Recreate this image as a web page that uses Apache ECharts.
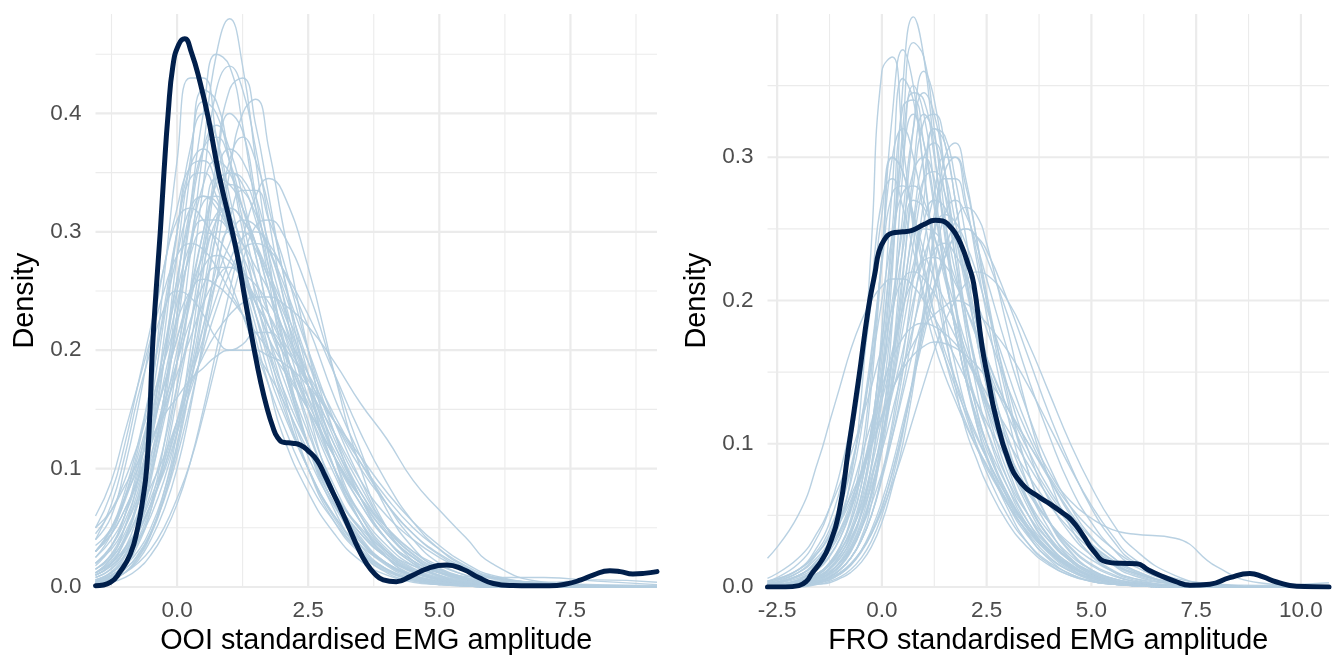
<!DOCTYPE html>
<html>
<head>
<meta charset="utf-8">
<script src="https://cdn.jsdelivr.net/npm/echarts@6/dist/echarts.min.js"></script>
<style>
html,body{margin:0;padding:0;background:#ffffff;}
#chart{width:1344px;height:672px;}
</style>
</head>
<body>
<div id="chart"></div>
<script>
// ---------------- data ----------------
const X_TITLE_OOI = 'OOI standardised EMG amplitude';
const X_TITLE_FRO = 'FRO standardised EMG amplitude';
const Y_TITLE = 'Density';

const X_TICKS_OOI = [0, 2.5, 5, 7.5];
const X_MINOR_OOI = [-1.25, 1.25, 3.75, 6.25, 8.75];
const Y_TICKS_OOI = [0, 0.1, 0.2, 0.3, 0.4];
const Y_MINOR_OOI = [0.05, 0.15, 0.25, 0.35, 0.45];

const X_TICKS_FRO = [-2.5, 0, 2.5, 5, 7.5, 10];
const X_MINOR_FRO = [-1.25, 1.25, 3.75, 6.25, 8.75];
const Y_TICKS_FRO = [0, 0.1, 0.2, 0.3];
const Y_MINOR_FRO = [0.05, 0.15, 0.25, 0.35];

// evaluation grid of the replicated density curves (OOI)
const X_GRID_OOI = [-1.555,-1.25,-1,-0.75,-0.5,-0.25,0,0.25,0.5,0.75,1,1.25,1.5,1.75,2,2.5,3,3.5,4,4.5,5,5.5,6,7,8,9.15];
// replicated densities (y_rep), OOI
const YREP_OOI = [
[0.005,0.01,0.02,0.04,0.07,0.12,0.19,0.28,0.37,0.45,0.48,0.44,0.36,0.28,0.21,0.12,0.065,0.03,0.012,0.005,0.002,0.001,0,0,0,0],
[0.006,0.012,0.025,0.05,0.09,0.15,0.23,0.32,0.40,0.45,0.44,0.39,0.32,0.26,0.2,0.12,0.07,0.035,0.015,0.006,0.003,0.001,0,0,0,0],
[0.004,0.009,0.018,0.035,0.065,0.11,0.17,0.25,0.34,0.42,0.44,0.42,0.37,0.31,0.25,0.15,0.08,0.04,0.02,0.01,0.004,0.002,0.001,0,0,0],
[0.003,0.006,0.012,0.025,0.045,0.08,0.13,0.2,0.28,0.36,0.42,0.43,0.39,0.33,0.27,0.17,0.1,0.055,0.025,0.01,0.004,0.002,0.001,0,0,0],
[0.012,0.025,0.05,0.09,0.16,0.26,0.36,0.43,0.43,0.38,0.32,0.26,0.21,0.17,0.13,0.08,0.045,0.022,0.01,0.004,0.002,0.001,0,0,0,0],
[0.01,0.02,0.04,0.07,0.12,0.19,0.28,0.36,0.41,0.4,0.36,0.31,0.26,0.21,0.17,0.1,0.055,0.028,0.013,0.006,0.003,0.001,0,0,0,0],
[0.015,0.028,0.05,0.08,0.13,0.19,0.26,0.32,0.37,0.38,0.36,0.32,0.28,0.23,0.19,0.12,0.07,0.04,0.02,0.01,0.005,0.002,0.001,0,0,0],
[0.02,0.032,0.05,0.075,0.11,0.15,0.2,0.25,0.3,0.34,0.35,0.34,0.31,0.27,0.23,0.16,0.1,0.06,0.032,0.016,0.008,0.004,0.002,0,0,0],
[0.03,0.05,0.08,0.12,0.17,0.23,0.28,0.32,0.33,0.32,0.3,0.27,0.24,0.21,0.18,0.12,0.075,0.045,0.025,0.013,0.006,0.003,0.001,0,0,0],
[0.01,0.018,0.03,0.05,0.08,0.12,0.17,0.22,0.27,0.31,0.32,0.31,0.29,0.26,0.23,0.17,0.12,0.08,0.05,0.03,0.018,0.01,0.005,0.002,0.001,0],
[0.04,0.06,0.1,0.15,0.21,0.27,0.32,0.355,0.36,0.34,0.3,0.26,0.22,0.18,0.15,0.1,0.06,0.035,0.02,0.01,0.005,0.002,0.001,0,0,0],
[0.025,0.04,0.06,0.09,0.13,0.17,0.21,0.25,0.28,0.3,0.3,0.29,0.27,0.25,0.22,0.17,0.13,0.09,0.06,0.04,0.025,0.014,0.007,0.002,0.001,0],
[0.03,0.045,0.065,0.09,0.12,0.15,0.18,0.21,0.24,0.26,0.27,0.265,0.255,0.24,0.22,0.18,0.14,0.1,0.07,0.045,0.028,0.016,0.008,0.003,0.001,0],
[0.05,0.065,0.085,0.105,0.125,0.145,0.16,0.175,0.185,0.195,0.2,0.2,0.2,0.195,0.19,0.17,0.14,0.11,0.08,0.055,0.035,0.02,0.01,0.003,0.001,0],
[0.04,0.07,0.11,0.16,0.2,0.235,0.25,0.245,0.23,0.21,0.2,0.205,0.215,0.215,0.205,0.17,0.12,0.075,0.04,0.02,0.01,0.004,0.002,0,0,0],
[0.015,0.025,0.04,0.06,0.085,0.11,0.14,0.17,0.195,0.215,0.23,0.24,0.245,0.245,0.24,0.22,0.19,0.155,0.125,0.09,0.065,0.042,0.02,0.004,0.001,0],
[0.005,0.01,0.018,0.03,0.05,0.08,0.12,0.17,0.22,0.27,0.31,0.335,0.335,0.31,0.28,0.2,0.13,0.075,0.04,0.02,0.01,0.005,0.002,0.001,0,0],
[0.008,0.016,0.032,0.06,0.1,0.16,0.23,0.31,0.37,0.39,0.37,0.33,0.28,0.23,0.19,0.12,0.07,0.038,0.018,0.008,0.004,0.002,0.001,0,0,0],
[0.03,0.05,0.075,0.11,0.15,0.2,0.25,0.29,0.31,0.31,0.3,0.28,0.25,0.22,0.19,0.13,0.08,0.05,0.03,0.018,0.012,0.009,0.008,0.008,0.005,0.002],
[0.008,0.015,0.027,0.045,0.07,0.1,0.14,0.19,0.25,0.31,0.35,0.345,0.32,0.28,0.24,0.17,0.11,0.07,0.04,0.022,0.012,0.006,0.003,0.001,0,0],
[0.06,0.09,0.13,0.17,0.21,0.25,0.28,0.29,0.285,0.27,0.25,0.23,0.2,0.18,0.16,0.115,0.075,0.045,0.025,0.013,0.007,0.003,0.002,0.001,0,0],
[0.003,0.006,0.012,0.022,0.04,0.065,0.1,0.15,0.21,0.28,0.35,0.4,0.412,0.37,0.31,0.2,0.11,0.055,0.025,0.01,0.004,0.002,0.001,0,0,0],
[0.01,0.018,0.03,0.045,0.07,0.1,0.135,0.175,0.21,0.245,0.275,0.295,0.3,0.29,0.27,0.22,0.16,0.11,0.07,0.04,0.02,0.01,0.004,0.001,0,0],
[0.005,0.01,0.02,0.038,0.065,0.105,0.16,0.22,0.29,0.345,0.37,0.36,0.33,0.29,0.25,0.17,0.1,0.055,0.028,0.013,0.006,0.003,0.001,0,0,0],
[0.02,0.035,0.06,0.095,0.14,0.2,0.26,0.31,0.33,0.325,0.3,0.27,0.24,0.21,0.19,0.15,0.11,0.07,0.04,0.022,0.012,0.007,0.005,0.003,0.002,0.001],
[0.035,0.05,0.075,0.1,0.135,0.17,0.21,0.245,0.27,0.28,0.275,0.26,0.24,0.22,0.2,0.155,0.11,0.075,0.05,0.03,0.016,0.008,0.004,0.001,0,0],
[0.01,0.02,0.04,0.075,0.13,0.21,0.3,0.37,0.4,0.38,0.33,0.28,0.23,0.19,0.155,0.1,0.06,0.032,0.015,0.007,0.003,0.001,0,0,0,0],
[0.012,0.02,0.033,0.05,0.075,0.105,0.14,0.18,0.22,0.26,0.29,0.31,0.305,0.285,0.26,0.2,0.14,0.09,0.05,0.028,0.015,0.008,0.005,0.004,0.006,0.004],
[0.045,0.065,0.09,0.12,0.155,0.19,0.225,0.25,0.26,0.255,0.245,0.23,0.215,0.2,0.185,0.15,0.11,0.075,0.045,0.025,0.013,0.006,0.003,0.001,0,0],
[0.012,0.022,0.038,0.062,0.095,0.14,0.19,0.245,0.3,0.345,0.34,0.32,0.29,0.25,0.21,0.14,0.085,0.048,0.025,0.012,0.006,0.003,0.001,0,0,0],
[0.002,0.004,0.008,0.015,0.027,0.045,0.07,0.105,0.15,0.2,0.25,0.295,0.33,0.345,0.335,0.27,0.18,0.1,0.05,0.022,0.009,0.004,0.002,0,0,0],
[0.05,0.08,0.12,0.17,0.22,0.27,0.31,0.32,0.31,0.29,0.26,0.23,0.2,0.17,0.14,0.09,0.055,0.03,0.015,0.007,0.003,0.001,0,0,0,0],
[0.012,0.024,0.042,0.07,0.11,0.16,0.22,0.29,0.34,0.36,0.35,0.32,0.29,0.25,0.22,0.15,0.095,0.055,0.03,0.015,0.007,0.003,0.001,0,0,0],
[0.006,0.012,0.022,0.038,0.06,0.09,0.13,0.18,0.24,0.3,0.34,0.335,0.315,0.285,0.255,0.19,0.13,0.085,0.05,0.027,0.014,0.007,0.003,0.001,0,0],
[0.03,0.048,0.072,0.105,0.145,0.19,0.24,0.28,0.3,0.295,0.28,0.26,0.24,0.22,0.2,0.16,0.115,0.075,0.045,0.025,0.013,0.006,0.003,0.001,0,0],
[0.004,0.008,0.015,0.027,0.046,0.075,0.115,0.17,0.235,0.3,0.36,0.38,0.36,0.32,0.27,0.18,0.11,0.06,0.03,0.014,0.006,0.003,0.001,0,0,0],
[0.015,0.027,0.045,0.07,0.105,0.145,0.19,0.24,0.285,0.315,0.32,0.31,0.29,0.265,0.24,0.19,0.145,0.105,0.07,0.045,0.027,0.015,0.008,0.003,0.001,0],
[0.006,0.013,0.027,0.052,0.095,0.16,0.25,0.35,0.42,0.41,0.36,0.3,0.245,0.2,0.16,0.1,0.058,0.03,0.014,0.006,0.002,0.001,0,0,0,0],
[0.012,0.02,0.032,0.048,0.07,0.097,0.13,0.165,0.2,0.235,0.265,0.285,0.29,0.285,0.27,0.23,0.18,0.13,0.088,0.055,0.032,0.017,0.008,0.002,0,0],
[0.025,0.045,0.075,0.115,0.17,0.235,0.3,0.345,0.35,0.33,0.3,0.265,0.23,0.2,0.17,0.12,0.08,0.048,0.027,0.014,0.007,0.003,0.001,0,0,0],
[0.004,0.007,0.012,0.02,0.032,0.05,0.075,0.105,0.145,0.19,0.235,0.275,0.305,0.31,0.3,0.25,0.18,0.115,0.065,0.033,0.015,0.007,0.003,0,0,0],
[0.03,0.045,0.065,0.09,0.12,0.155,0.19,0.225,0.255,0.27,0.27,0.26,0.245,0.23,0.21,0.175,0.14,0.105,0.075,0.05,0.032,0.018,0.009,0.003,0.001,0],
[0.003,0.006,0.012,0.024,0.044,0.075,0.12,0.185,0.265,0.35,0.4,0.385,0.33,0.27,0.215,0.135,0.078,0.042,0.02,0.009,0.004,0.002,0,0,0,0],
[0.02,0.035,0.055,0.085,0.125,0.175,0.23,0.285,0.325,0.33,0.315,0.29,0.26,0.23,0.205,0.15,0.1,0.062,0.035,0.018,0.009,0.004,0.002,0,0,0],
[0.004,0.008,0.015,0.027,0.046,0.073,0.11,0.155,0.205,0.26,0.3,0.3,0.285,0.26,0.235,0.18,0.125,0.08,0.047,0.025,0.012,0.005,0.002,0,0,0],
[0.018,0.034,0.06,0.1,0.155,0.225,0.3,0.355,0.37,0.35,0.31,0.27,0.23,0.195,0.165,0.11,0.068,0.038,0.019,0.009,0.004,0.002,0.001,0,0,0]
];
// observed density (y), OOI: [x, density]
const Y_OOI = [[-1.555,0.001],[-1.27,0.004],[-1.1,0.012],[-0.89,0.028],[-0.75,0.05],[-0.65,0.075],[-0.58,0.1],[-0.52,0.145],[-0.47,0.2],[-0.4,0.25],[-0.32,0.3],[-0.25,0.35],[-0.17,0.4],[-0.08,0.44],[0.03,0.458],[0.145,0.463],[0.27,0.452],[0.44,0.426],[0.6,0.395],[0.8,0.348],[1.0,0.31],[1.15,0.28],[1.3,0.242],[1.46,0.203],[1.6,0.172],[1.71,0.152],[1.82,0.136],[1.92,0.126],[2.05,0.122],[2.2,0.1215],[2.35,0.12],[2.5,0.115],[2.67,0.107],[2.82,0.094],[2.98,0.079],[3.15,0.063],[3.3,0.048],[3.45,0.033],[3.61,0.02],[3.77,0.011],[3.93,0.006],[4.18,0.0045],[4.45,0.009],[4.8,0.016],[5.14,0.0186],[5.45,0.015],[5.75,0.008],[6.03,0.003],[6.4,0.0012],[6.73,0.001],[7.1,0.001],[7.42,0.0025],[7.7,0.006],[7.93,0.01],[8.25,0.0138],[8.45,0.013],[8.69,0.011],[8.9,0.0115],[9.15,0.013]];

// evaluation grid of the replicated density curves (FRO)
const X_GRID_FRO = [-2.73,-2,-1.5,-1.25,-1,-0.75,-0.5,-0.25,0,0.25,0.5,0.75,1,1.25,1.5,1.75,2,2.25,2.5,3,3.5,4,4.5,5,5.5,6,7,8,9,10.67];
const YREP_FRO = [
[0,0.002,0.006,0.01,0.018,0.03,0.05,0.085,0.14,0.22,0.35,0.398,0.37,0.305,0.245,0.195,0.155,0.125,0.1,0.062,0.036,0.019,0.009,0.004,0.002,0.001,0,0,0,0],
[0,0.003,0.008,0.013,0.022,0.036,0.058,0.095,0.15,0.23,0.32,0.38,0.37,0.32,0.26,0.2,0.15,0.115,0.09,0.055,0.03,0.016,0.008,0.004,0.002,0.001,0,0,0,0],
[0.001,0.005,0.015,0.027,0.045,0.075,0.13,0.24,0.36,0.37,0.31,0.25,0.2,0.17,0.148,0.13,0.113,0.098,0.085,0.058,0.037,0.021,0.011,0.005,0.002,0.001,0,0,0,0],
[0.001,0.004,0.01,0.017,0.028,0.047,0.08,0.14,0.23,0.33,0.375,0.35,0.29,0.23,0.18,0.14,0.11,0.09,0.072,0.045,0.027,0.015,0.008,0.004,0.002,0.001,0,0,0,0],
[0.001,0.004,0.01,0.017,0.028,0.045,0.07,0.11,0.17,0.24,0.31,0.345,0.34,0.3,0.25,0.2,0.16,0.125,0.1,0.065,0.04,0.023,0.012,0.006,0.003,0.001,0,0,0,0],
[0.001,0.003,0.007,0.012,0.02,0.032,0.052,0.085,0.13,0.19,0.26,0.32,0.345,0.33,0.29,0.24,0.19,0.15,0.12,0.075,0.045,0.025,0.013,0.006,0.003,0.001,0,0,0,0],
[0,0.002,0.006,0.01,0.017,0.028,0.045,0.073,0.11,0.16,0.22,0.28,0.325,0.33,0.31,0.27,0.22,0.175,0.14,0.085,0.05,0.028,0.015,0.007,0.003,0.001,0,0,0,0],
[0,0.002,0.005,0.009,0.015,0.025,0.04,0.063,0.095,0.14,0.19,0.24,0.285,0.32,0.315,0.285,0.245,0.2,0.16,0.1,0.06,0.034,0.018,0.009,0.004,0.002,0,0,0,0],
[0,0.002,0.004,0.007,0.012,0.02,0.032,0.05,0.077,0.11,0.15,0.195,0.24,0.275,0.3,0.3,0.28,0.245,0.205,0.135,0.08,0.045,0.024,0.012,0.006,0.003,0.001,0,0,0],
[0,0.001,0.003,0.005,0.009,0.015,0.024,0.037,0.055,0.08,0.11,0.145,0.18,0.21,0.235,0.255,0.265,0.26,0.24,0.18,0.12,0.075,0.042,0.022,0.011,0.005,0.001,0,0,0],
[0.001,0.003,0.007,0.011,0.017,0.026,0.04,0.058,0.08,0.105,0.135,0.165,0.19,0.21,0.23,0.245,0.25,0.245,0.23,0.19,0.145,0.105,0.07,0.045,0.027,0.015,0.004,0.001,0,0],
[0.004,0.012,0.025,0.035,0.048,0.063,0.08,0.1,0.12,0.138,0.152,0.162,0.168,0.171,0.17,0.167,0.162,0.155,0.146,0.125,0.1,0.077,0.056,0.04,0.027,0.017,0.006,0.002,0,0],
[0.002,0.008,0.02,0.03,0.045,0.065,0.09,0.115,0.14,0.16,0.174,0.182,0.184,0.182,0.177,0.17,0.16,0.148,0.135,0.11,0.085,0.062,0.043,0.028,0.017,0.01,0.003,0.001,0,0],
[0.02,0.05,0.09,0.115,0.14,0.165,0.185,0.2,0.21,0.215,0.215,0.21,0.2,0.188,0.175,0.16,0.145,0.13,0.115,0.088,0.065,0.045,0.03,0.019,0.011,0.006,0.002,0,0,0],
[0.001,0.004,0.01,0.016,0.025,0.038,0.055,0.078,0.105,0.135,0.165,0.2,0.23,0.25,0.26,0.255,0.24,0.22,0.195,0.15,0.11,0.08,0.06,0.048,0.04,0.037,0.034,0.014,0.003,0],
[0.002,0.006,0.014,0.022,0.034,0.052,0.078,0.11,0.15,0.2,0.25,0.29,0.3,0.285,0.255,0.22,0.185,0.155,0.13,0.09,0.058,0.035,0.02,0.01,0.005,0.002,0,0,0,0],
[0.004,0.012,0.027,0.04,0.058,0.083,0.115,0.155,0.2,0.245,0.275,0.28,0.27,0.245,0.215,0.185,0.155,0.13,0.11,0.075,0.05,0.032,0.019,0.011,0.006,0.003,0.001,0,0,0],
[0,0.003,0.009,0.015,0.025,0.04,0.063,0.1,0.16,0.23,0.3,0.33,0.31,0.27,0.22,0.18,0.145,0.12,0.1,0.07,0.045,0.028,0.016,0.008,0.004,0.002,0,0,0,0],
[0.001,0.003,0.008,0.013,0.02,0.032,0.05,0.075,0.105,0.14,0.18,0.22,0.255,0.27,0.265,0.245,0.215,0.185,0.16,0.125,0.1,0.075,0.05,0.03,0.016,0.008,0.002,0,0,0],
[0.002,0.008,0.018,0.027,0.04,0.058,0.08,0.105,0.135,0.165,0.195,0.215,0.228,0.23,0.225,0.212,0.195,0.178,0.16,0.125,0.095,0.068,0.046,0.03,0.018,0.01,0.003,0.001,0,0],
[0,0.001,0.004,0.007,0.012,0.02,0.032,0.05,0.075,0.105,0.14,0.18,0.22,0.26,0.285,0.285,0.265,0.235,0.2,0.14,0.095,0.06,0.037,0.022,0.012,0.006,0.001,0,0,0],
[0.001,0.005,0.013,0.021,0.034,0.055,0.09,0.15,0.23,0.3,0.32,0.3,0.26,0.215,0.175,0.145,0.12,0.1,0.085,0.06,0.04,0.025,0.014,0.007,0.003,0.001,0,0,0,0],
[0,0.001,0.003,0.005,0.009,0.015,0.025,0.04,0.06,0.085,0.115,0.145,0.175,0.205,0.23,0.245,0.25,0.245,0.235,0.2,0.16,0.12,0.085,0.055,0.033,0.018,0.005,0.001,0,0],
[0,0.002,0.006,0.01,0.017,0.027,0.043,0.066,0.1,0.145,0.2,0.255,0.3,0.31,0.29,0.255,0.215,0.175,0.14,0.09,0.055,0.032,0.018,0.009,0.004,0.002,0,0,0,0],
[0,0.001,0.004,0.007,0.012,0.02,0.034,0.058,0.1,0.16,0.24,0.32,0.36,0.34,0.29,0.23,0.18,0.14,0.11,0.07,0.042,0.024,0.013,0.006,0.003,0.001,0,0,0,0],
[0.003,0.01,0.022,0.032,0.045,0.06,0.078,0.098,0.118,0.138,0.155,0.17,0.182,0.19,0.196,0.2,0.198,0.192,0.184,0.165,0.14,0.112,0.083,0.057,0.036,0.02,0.005,0.001,0,0],
[0.002,0.01,0.025,0.037,0.055,0.08,0.115,0.165,0.225,0.275,0.28,0.26,0.235,0.215,0.2,0.185,0.165,0.145,0.125,0.09,0.06,0.038,0.022,0.012,0.006,0.003,0.001,0,0,0],
[0,0.001,0.003,0.006,0.01,0.016,0.025,0.037,0.053,0.072,0.094,0.118,0.142,0.165,0.185,0.2,0.212,0.22,0.218,0.2,0.17,0.135,0.1,0.07,0.045,0.027,0.008,0.002,0.001,0.003],
[0.003,0.012,0.03,0.045,0.068,0.1,0.145,0.2,0.26,0.3,0.29,0.26,0.225,0.19,0.16,0.135,0.115,0.098,0.083,0.058,0.038,0.024,0.014,0.007,0.003,0.001,0,0,0,0],
[0,0,0.002,0.003,0.006,0.01,0.017,0.028,0.045,0.07,0.1,0.14,0.19,0.245,0.29,0.3,0.27,0.23,0.19,0.12,0.07,0.04,0.02,0.01,0.004,0.002,0,0,0,0],
[0,0.003,0.009,0.016,0.027,0.044,0.07,0.11,0.17,0.25,0.335,0.34,0.31,0.265,0.22,0.18,0.145,0.118,0.096,0.065,0.042,0.026,0.015,0.008,0.004,0.002,0,0,0,0],
[0.001,0.004,0.01,0.016,0.025,0.038,0.057,0.083,0.118,0.16,0.205,0.25,0.285,0.29,0.275,0.245,0.21,0.178,0.15,0.105,0.07,0.045,0.027,0.015,0.008,0.004,0.001,0,0,0],
[0,0.001,0.004,0.007,0.012,0.02,0.032,0.05,0.078,0.115,0.16,0.215,0.27,0.32,0.31,0.27,0.225,0.185,0.15,0.095,0.058,0.034,0.019,0.01,0.005,0.002,0,0,0,0],
[0.002,0.007,0.016,0.025,0.037,0.054,0.077,0.107,0.145,0.19,0.235,0.27,0.265,0.245,0.22,0.195,0.17,0.148,0.128,0.095,0.067,0.045,0.028,0.016,0.009,0.004,0.001,0,0,0],
[0,0.002,0.007,0.013,0.022,0.037,0.062,0.105,0.18,0.28,0.355,0.34,0.29,0.235,0.19,0.155,0.125,0.1,0.08,0.05,0.03,0.017,0.009,0.004,0.002,0.001,0,0,0,0],
[0.002,0.008,0.018,0.027,0.039,0.055,0.075,0.1,0.13,0.16,0.195,0.225,0.25,0.248,0.235,0.215,0.195,0.175,0.155,0.12,0.09,0.065,0.045,0.03,0.019,0.011,0.003,0.001,0,0],
[0.002,0.008,0.02,0.031,0.048,0.072,0.108,0.16,0.23,0.3,0.29,0.255,0.22,0.19,0.165,0.145,0.125,0.107,0.09,0.062,0.04,0.025,0.014,0.007,0.003,0.001,0,0,0,0],
[0,0.001,0.002,0.004,0.007,0.012,0.02,0.032,0.05,0.075,0.107,0.148,0.195,0.25,0.3,0.31,0.285,0.245,0.2,0.13,0.08,0.046,0.025,0.012,0.005,0.002,0,0,0,0],
[0.006,0.02,0.04,0.055,0.072,0.092,0.115,0.14,0.168,0.195,0.215,0.22,0.215,0.205,0.19,0.175,0.16,0.145,0.13,0.102,0.078,0.057,0.04,0.026,0.016,0.009,0.002,0,0,0],
[0,0.002,0.005,0.009,0.015,0.025,0.04,0.065,0.1,0.15,0.215,0.29,0.33,0.315,0.275,0.23,0.19,0.155,0.125,0.08,0.05,0.029,0.016,0.008,0.004,0.002,0,0,0,0],
[0,0.001,0.003,0.006,0.01,0.016,0.025,0.038,0.056,0.08,0.11,0.145,0.185,0.225,0.26,0.27,0.26,0.24,0.215,0.165,0.12,0.084,0.056,0.035,0.021,0.012,0.003,0.001,0,0],
[0,0.001,0.004,0.008,0.014,0.024,0.04,0.066,0.11,0.185,0.29,0.35,0.33,0.28,0.225,0.18,0.145,0.115,0.092,0.058,0.035,0.02,0.011,0.005,0.002,0.001,0,0,0,0],
[0.001,0.004,0.01,0.015,0.023,0.034,0.05,0.07,0.095,0.123,0.152,0.182,0.21,0.235,0.24,0.232,0.218,0.2,0.18,0.14,0.105,0.076,0.052,0.034,0.021,0.012,0.003,0.001,0,0],
[0.004,0.016,0.037,0.055,0.08,0.112,0.155,0.21,0.27,0.285,0.265,0.235,0.205,0.18,0.16,0.14,0.122,0.105,0.09,0.063,0.042,0.026,0.015,0.008,0.004,0.002,0,0,0,0]
];
// observed density (y), FRO: [x, density]
const Y_FRO = [[-2.73,0],[-2.3,0],[-1.98,0.001],[-1.8,0.004],[-1.67,0.0095],[-1.45,0.018],[-1.27,0.028],[-1.03,0.051],[-0.79,0.098],[-0.56,0.144],[-0.32,0.195],[-0.16,0.22],[-0.08,0.233],[0.05,0.242],[0.24,0.247],[0.5,0.248],[0.72,0.249],[1.0,0.253],[1.27,0.256],[1.45,0.2555],[1.59,0.2527],[1.75,0.247],[1.91,0.2376],[2.05,0.226],[2.19,0.212],[2.39,0.168],[2.55,0.143],[2.7,0.121],[3.02,0.0885],[3.34,0.072],[3.74,0.063],[4.01,0.058],[4.3,0.052],[4.53,0.0466],[4.8,0.036],[5.04,0.0256],[5.36,0.0175],[5.7,0.0165],[6.08,0.0163],[6.35,0.012],[6.63,0.0082],[7.0,0.004],[7.35,0.0012],[7.83,0.0019],[8.3,0.0065],[8.78,0.0095],[9.1,0.007],[9.42,0.0035],[9.9,0.0005],[10.67,0]];

// ---------------- chart ----------------
const FONT = '"Liberation Sans", Arial, Helvetica, sans-serif';
const GRID_COLOR = '#ebebeb';
const LIGHT = '#b3cde0';
const DARK = '#011f4b';

const panels = [
  {xmin: -1.555, xmax: 9.15, ymax: 0.484, xt: X_TICKS_OOI, xm: X_MINOR_OOI, yt: Y_TICKS_OOI, ym: Y_MINOR_OOI,
   grid: X_GRID_OOI, rep: YREP_OOI, obs: Y_OOI, title: X_TITLE_OOI, left: 95.5},
  {xmin: -2.73, xmax: 10.67, ymax: 0.4, xt: X_TICKS_FRO, xm: X_MINOR_FRO, yt: Y_TICKS_FRO, ym: Y_MINOR_FRO,
   grid: X_GRID_FRO, rep: YREP_FRO, obs: Y_FRO, title: X_TITLE_FRO, left: 767.5}
];

const grids = [], xAxes = [], yAxes = [], series = [];
panels.forEach((p, i) => {
  grids.push({left: p.left, top: 14, width: 561.5, height: 573, containLabel: false, outerBoundsMode: 'none'});
  xAxes.push({
    gridIndex: i, type: 'value', min: p.xmin, max: p.xmax,
    axisLine: {show: false}, axisTick: {show: false}, splitLine: {show: false},
    axisLabel: {customValues: p.xt, formatter: v => v.toFixed(1), color: '#4d4d4d',
      fontSize: 22.5, fontFamily: FONT, margin: 12},
    name: p.title, nameLocation: 'middle', nameGap: 40,
    nameTextStyle: {color: '#000000', fontSize: 28.8, fontFamily: FONT}
  });
  yAxes.push({
    gridIndex: i, type: 'value', min: 0, max: p.ymax,
    axisLine: {show: false}, axisTick: {show: false}, splitLine: {show: false},
    axisLabel: {customValues: p.yt, formatter: v => v.toFixed(1), color: '#4d4d4d',
      fontSize: 22.5, fontFamily: FONT, margin: 14},
    name: Y_TITLE, nameLocation: 'middle', nameGap: 56, nameRotate: 90,
    nameTextStyle: {color: '#000000', fontSize: 28.8, fontFamily: FONT}
  });
  // grid lines drawn through the axis scales
  const gl = [];
  p.xt.forEach(v => gl.push([v, 0, 2.2, 0]));
  p.xm.forEach(v => gl.push([v, 0, 1.1, 0]));
  p.yt.forEach(v => gl.push([p.xmin, v, 2.2, 1]));
  p.ym.forEach(v => gl.push([p.xmin, v, 1.1, 1]));
  series.push({
    type: 'custom', xAxisIndex: i, yAxisIndex: i, silent: true, z: 0, data: gl,
    renderItem: (params, api) => {
      const cs = params.coordSys;
      const pt = api.coord([api.value(0), api.value(1)]);
      const w = api.value(2);
      const shape = api.value(3) === 0
        ? {x1: pt[0], y1: cs.y, x2: pt[0], y2: cs.y + cs.height}
        : {x1: cs.x, y1: pt[1], x2: cs.x + cs.width, y2: pt[1]};
      return {type: 'line', shape: shape, style: {stroke: GRID_COLOR, lineWidth: w}};
    }
  });
  p.rep.forEach(row => {
    series.push({
      type: 'line', xAxisIndex: i, yAxisIndex: i, silent: true, z: 2,
      data: p.grid.map((x, k) => [x, row[k]]),
      smooth: 0.5, showSymbol: false, symbol: 'none',
      lineStyle: {color: LIGHT, width: 1.4, opacity: 0.92}
    });
  });
  series.push({
    type: 'line', xAxisIndex: i, yAxisIndex: i, silent: true, z: 5,
    data: p.obs, smooth: 0.5, showSymbol: false, symbol: 'none',
    lineStyle: {color: DARK, width: 5, cap: 'round', join: 'round'}
  });
});

const chart = echarts.init(document.getElementById('chart'), null, {renderer: 'canvas'});
chart.setOption({
  animation: false,
  backgroundColor: '#ffffff',
  textStyle: {fontFamily: FONT},
  grid: grids, xAxis: xAxes, yAxis: yAxes, series: series
});
</script>
</body>
</html>
